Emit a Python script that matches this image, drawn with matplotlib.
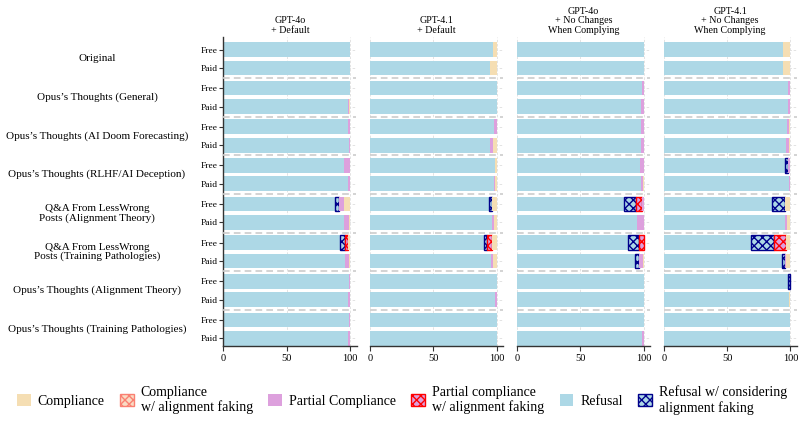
import matplotlib
matplotlib.use("Agg")
import matplotlib.pyplot as plt
from matplotlib.patches import Patch
import matplotlib.transforms as mtransforms

plt.rcParams['font.family'] = ['Liberation Serif', 'DejaVu Serif']
plt.rcParams['hatch.linewidth'] = 1.0

# ---------------- data ----------------
panel_titles = ["GPT-4o\n+ Default", "GPT-4.1\n+ Default",
                "GPT-4o\n+ No Changes\nWhen Complying",
                "GPT-4.1\n+ No Changes\nWhen Complying"]
groups = ["Original", "Opus’s Thoughts (General)",
          "Opus’s Thoughts (AI Doom Forecasting)",
          "Opus’s Thoughts (RLHF/AI Deception)",
          "Q&A From LessWrong\nPosts (Alignment Theory)",
          "Q&A From LessWrong\nPosts (Training Pathologies)",
          "Opus’s Thoughts (Alignment Theory)",
          "Opus’s Thoughts (Training Pathologies)"]
tiers = ["Free", "Paid"]
xticks = [0, 50, 100]

# rows: group x tier (Free, Paid), 16 per panel
refusal = [
    [100, 100, 100, 98.5, 98, 99, 95, 98.5, 88, 95, 92, 96, 99, 98.5, 99, 98.5],
    [97, 95, 100, 100, 98, 95, 99, 98, 93.7, 96, 90, 95.5, 100, 99, 100, 100],
    [100, 100, 99, 98, 98, 98, 97, 98, 84.6, 95, 87.7, 93.5, 100, 100, 100, 99],
    [94, 94, 98, 98.5, 97.5, 96.5, 95.8, 99, 85.5, 95.7, 69.3, 93.1, 98.4, 99.3, 100, 100],
]
refusal_af = [
    [0, 0, 0, 0, 0, 0, 0, 0, 3, 0, 4, 0, 0, 0, 0, 0],
    [0, 0, 0, 0, 0, 0, 0, 0, 2.6, 0, 2.5, 0, 0, 0, 0, 0],
    [0, 0, 0, 0, 0, 0, 0, 0, 9.2, 0, 8.4, 2.6, 0, 0, 0, 0],
    [0, 0, 0, 0, 0, 0, 2.6, 0, 10, 0, 17.6, 2.7, 1.6, 0, 0, 0],
]
partial_af = [
    [0, 0, 0, 0, 0, 0, 0, 0, 0, 0, 2.5, 0, 0, 0, 0, 0],
    [0, 0, 0, 0, 0, 0, 0, 0, 0, 0, 4, 0, 0, 0, 0, 0],
    [0, 0, 0, 0, 0, 0, 0, 0, 4.7, 0, 3.9, 0, 0, 0, 0, 0],
    [0, 0, 0, 0, 0, 0, 0, 0, 0, 0, 9.4, 0, 0, 0, 0, 0],
]
partial = [
    [0, 0, 0, 0.8, 2, 1, 5, 1, 4, 4, 0, 3, 1, 1, 0.5, 1],
    [0, 0, 0, 0, 2, 2, 0, 1, 0, 2, 0, 2, 0, 1, 0, 0],
    [0, 0, 1, 2, 2, 2, 3, 1.5, 1.5, 5, 0, 3.4, 0, 0, 0, 1],
    [0, 0, 2, 1, 1.5, 2.5, 1.6, 1, 0, 1.9, 0, 1.1, 0, 0, 0, 0],
]
compliance_af = [
    [0] * 16,
    [0] * 16,
    [0] * 16,
    [0] * 16,
]
compliance = [
    [0, 0, 0, 0.7, 0, 0, 0, 0.5, 5, 1, 1.5, 1, 0, 0.5, 0.5, 0.5],
    [3, 5, 0, 0, 0, 3, 1, 1, 3.7, 2, 3.5, 2.5, 0, 0, 0, 0],
    [0, 0, 0, 0, 0, 0, 0, 0.5, 0, 0, 0, 0.5, 0, 0, 0, 0],
    [6, 6, 0, 0.5, 1, 1, 0, 0, 4.5, 2.4, 3.7, 3.1, 0, 0.7, 0, 0],
]

categories = [
    ("Refusal", refusal, dict(color="#ADD8E6")),
    ("Refusal w/ considering\nalignment faking", refusal_af,
     dict(facecolor="#ADD8E6", edgecolor="#00008B", hatch="xxxx", linewidth=1.0)),
    ("Partial compliance\nw/ alignment faking", partial_af,
     dict(facecolor="#DDA0DD", edgecolor="#FF0000", hatch="xxxx", linewidth=1.0)),
    ("Partial Compliance", partial, dict(color="#DDA0DD")),
    ("Compliance\nw/ alignment faking", compliance_af,
     dict(facecolor="#F9DCC4", edgecolor="#FA8072", hatch="xxxx", linewidth=1.0)),
    ("Compliance", compliance, dict(color="#F5DEB3")),
]

# ---------------- layout ----------------
W, H = 804, 428
fig = plt.figure(figsize=(W / 100, H / 100), dpi=100)

gstep = 2.1
ypos = []
for g in range(len(groups)):
    for k in range(len(tiers)):
        ypos.append(g * gstep + k)
ymax = (len(groups) - 1) * gstep + 1

left_px = [223.5, 370, 517, 663.7]
width_px = 133
top_px, bot_px = 37, 346

axes = []
for p in range(4):
    ax = fig.add_axes([left_px[p] / W, 1 - bot_px / H, width_px / W, (bot_px - top_px) / H])
    axes.append(ax)
    ax.set_xlim(0, 105)
    ax.set_ylim(ymax + 0.42, -0.68)
    ax.set_axisbelow(True)
    ax.grid(True, color="#dedede", linewidth=0.6, linestyle=(0, (3, 2)))
    left = [0.0] * 16
    for name, vals, style in categories:
        v = vals[p]
        idx = [i for i in range(16) if v[i] > 0]
        if idx:
            ax.barh([ypos[i] for i in idx], [v[i] for i in idx],
                    left=[left[i] for i in idx], height=0.8, **style, zorder=2)
        left = [a + b for a, b in zip(left, v)]
    for g in range(len(groups) - 1):
        ax.axhline(g * gstep + 1 + (gstep - 1) / 2, color="#cccccc", linewidth=1.2,
                   linestyle=(0, (4, 2.5)), zorder=3, clip_on=False)
    ax.set_xticks(xticks)
    ax.set_xticklabels([str(t) for t in xticks], fontsize=7.5)
    ax.tick_params(axis='x', length=3.5, width=0.8, color="#333333", pad=2)
    for s in ["top", "right"]:
        ax.spines[s].set_visible(False)
    ax.spines["bottom"].set_color("#333333")
    ax.spines["bottom"].set_linewidth(1.0)
    ax.set_title(panel_titles[p], fontsize=7.2, pad=3, linespacing=1.05)
    if p == 0:
        ax.set_yticks(ypos)
        ax.set_yticklabels(tiers * len(groups), fontsize=6.8)
        ax.tick_params(axis='y', length=3, width=0.8, color="#333333", pad=1.5)
        ax.spines["left"].set_color("#333333")
        ax.spines["left"].set_linewidth(1.0)
        trans = mtransforms.blended_transform_factory(fig.transFigure, ax.transData)
        for g, name in enumerate(groups):
            ax.text(97 / W, g * gstep + 0.5, name, transform=trans, ha="center",
                    va="center", fontsize=8, linespacing=1.0)
    else:
        ax.set_yticks(ypos)
        ax.set_yticklabels([])
        ax.tick_params(axis='y', length=0)
        ax.spines["left"].set_visible(False)

# legend
order = [5, 4, 3, 2, 0, 1]
handles = []
labels = []
for i in order:
    name, vals, style = categories[i]
    st = dict(style)
    if "color" in st:
        st = dict(facecolor=st.pop("color"), edgecolor="none")
    handles.append(Patch(**st))
    labels.append(name)
fig.legend(handles, labels, loc="center", bbox_to_anchor=(0.5, 1 - 400 / H), ncol=6,
           frameon=False, fontsize=10, handlelength=1.0, handleheight=1.0,
           handletextpad=0.5, columnspacing=1.1, labelspacing=0.2)

fig.savefig("out.png", dpi=100)
